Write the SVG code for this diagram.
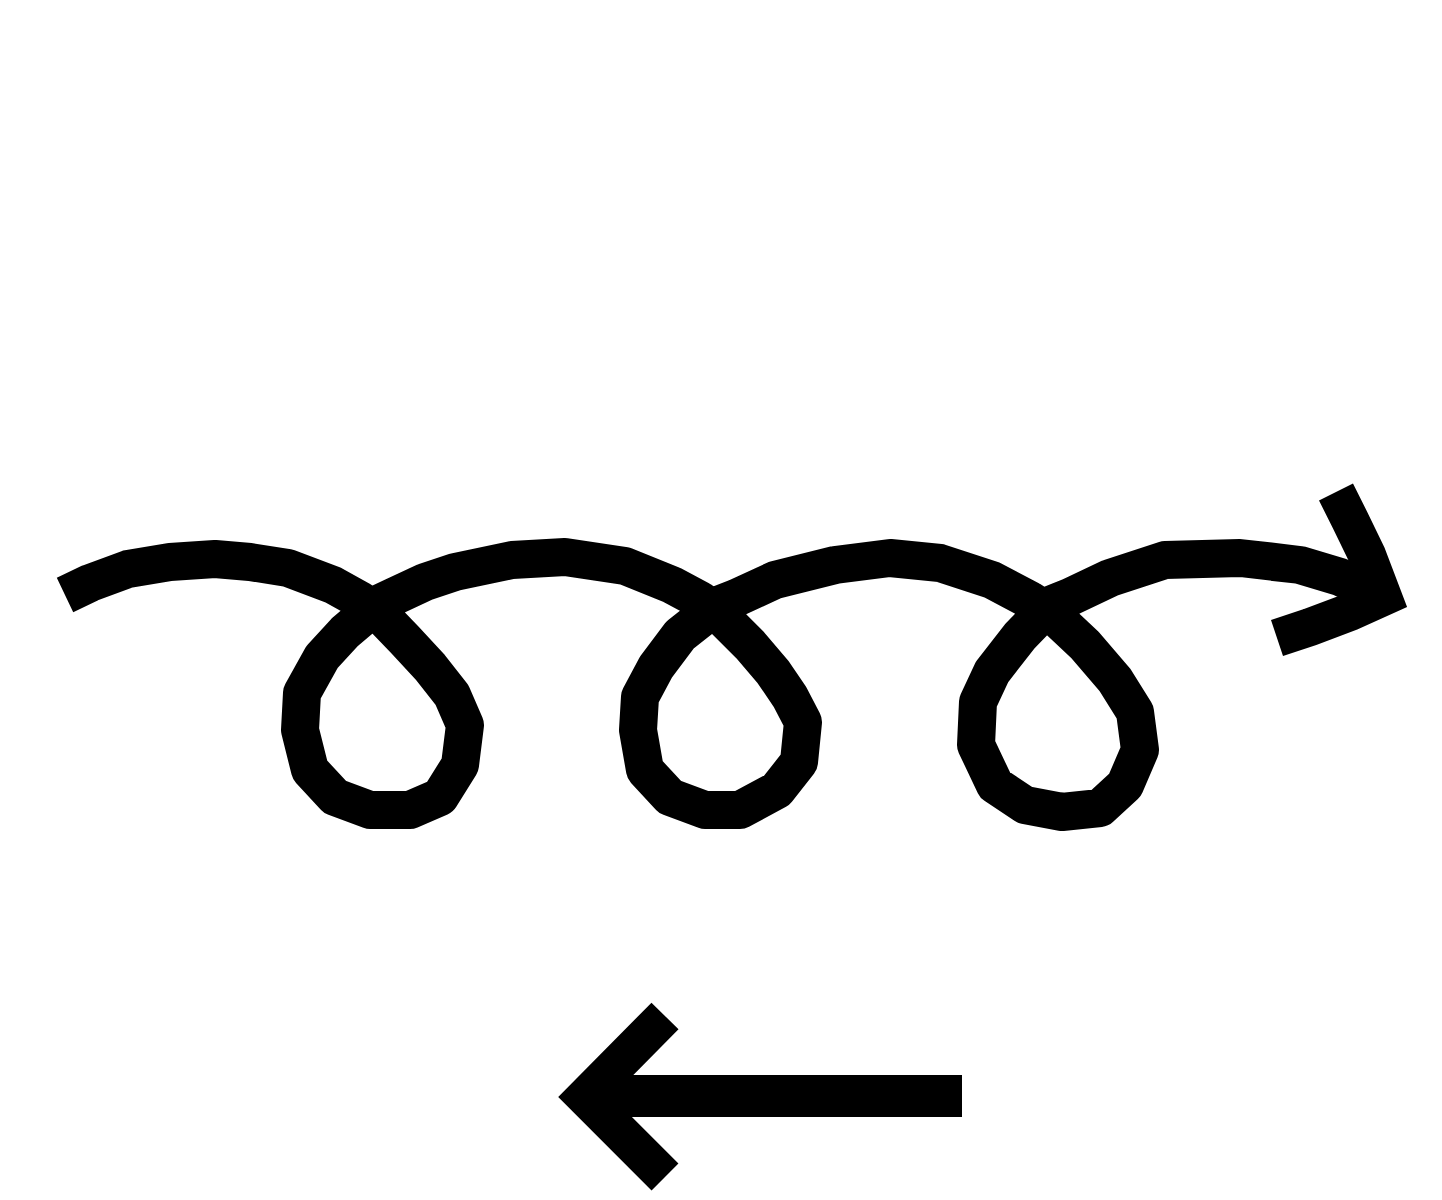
<svg xmlns="http://www.w3.org/2000/svg" width="1442" height="1200" viewBox="0 0 1442 1200">
<style>
.ln{fill:none;stroke:#000;stroke-width:38;stroke-linejoin:round;stroke-linecap:butt}
.hd{fill:none;stroke:#000;stroke-width:38;stroke-linejoin:miter;stroke-miterlimit:4;stroke-linecap:butt}
</style>
<rect width="1442" height="1200" fill="#fff"/>
<g id="curly-arrow">
<polyline class="ln" points="65,595 90,583 128,569 170,562 215,559 250,562 288,568 333,585 360,600 380,614 405,640 430,667 452,695 465,725 460,765 440,797 410,810 370,810 335,797 310,770 300,730 302,693 322,657 345,632 378,604 395,596 425,582 455,572 512,560 565,557 625,566 672,585 700,600 718,613 750,645 773,672 790,697 803,722 799,762 777,790 740,810 705,810 670,797 645,770 638,730 640,697 656,667 680,635 718,605 736,598 775,580 835,565 890,558 940,563 992,580 1030,600 1052,614 1085,645 1115,680 1135,712 1140,750 1125,785 1100,808 1062,812 1025,805 995,785 976,745 978,702 992,672 1020,636 1050,605 1070,597 1110,578 1165,560 1240,558 1300,565 1340,577 1385,598"/>
<polyline class="hd" points="1336,492 1350,520 1367,555 1383,597 1350,612 1310,627 1277,638"/>
</g>
<g id="left-arrow">
<line x1="600" y1="1096" x2="962" y2="1096" stroke="#000" stroke-width="42"/>
<polyline class="hd" points="665,1016 585,1097 665,1177"/>
</g>
</svg>
